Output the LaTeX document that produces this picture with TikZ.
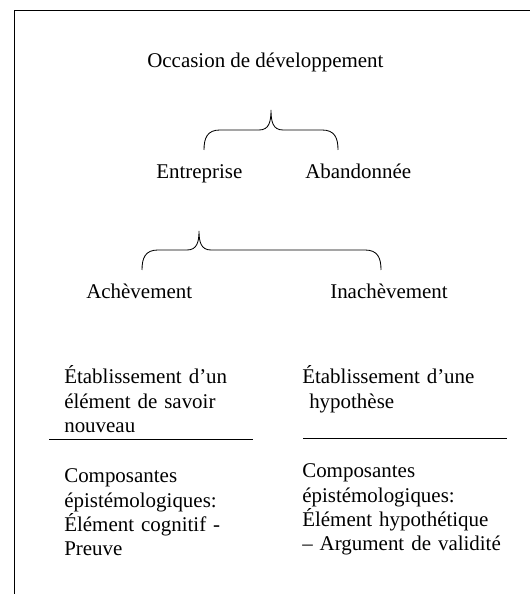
\documentclass[tikz,border=0pt]{standalone}
\usepackage{fontspec}
\setmainfont{Liberation Serif}
\usetikzlibrary{positioning}

% curly brace: left end, tip, right end (x), bottom, horizontal, top (y)
\newcommand{\curlybrace}[6]{%
  \draw[thinline] (#1,#4) .. controls (#1,#5-0.2) and (#1+0.08,#5) .. (#1+0.4,#5)
    -- (#2-0.3,#5) .. controls (#2-0.05,#5) and (#2,#5+0.2) .. (#2,#6)
    .. controls (#2,#5+0.2) and (#2+0.05,#5) .. (#2+0.3,#5)
    -- (#3-0.4,#5) .. controls (#3-0.08,#5) and (#3,#5-0.2) .. (#3,#4);}

\begin{document}
\begin{tikzpicture}[
    thinline/.style={line width=0.6pt},
    lbl/.style={font=\fontsize{14.9}{17.1}\selectfont, inner sep=0pt, anchor=base west},
    block/.style={lbl, text width=6cm, align=left}]
        \useasboundingbox (0,0) rectangle (13.225,14.85);
        % frame
        \draw[thinline] (0.35,0) -- (0.35,14.6) -- (13.3,14.6);
        % top level
        \node[lbl] (occasion) at (3.675,13.15) {Occasion de développement};
        \curlybrace{5.1}{6.775}{8.45}{11.1}{11.6}{12.1}
        \node[lbl] (entreprise) at (3.9,10.375) {Entreprise};
        \node[lbl] (abandonnee) at (7.625,10.375) {Abandonnée};
        % second level
        \curlybrace{3.55}{4.975}{9.525}{8.1}{8.6}{9.075}
        \node[lbl] (achevement) at (2.15,7.375) {Achèvement};
        \node[lbl] (inachevement) at (8.25,7.375) {Inachèvement};
        % results
        \node[block] (savoir) at (1.6,5.25) {Établissement d’un\\élément de savoir\\nouveau};
        \node[block] (hypothese) at (7.55,5.25) {Établissement d’une\\\ hypothèse};
        \draw[thinline] (1.225,3.875) -- (6.325,3.875);
        \draw[thinline] (7.575,3.9) -- (12.675,3.9);
        \node[block] (compoA) at (1.6,2.775) {Composantes\\épistémologiques:\\Élément cognitif -\\Preuve};
        \node[block] (compoB) at (7.55,2.9) {Composantes\\épistémologiques:\\Élément hypothétique\\– Argument de validité};
    \end{tikzpicture}
\end{document}
